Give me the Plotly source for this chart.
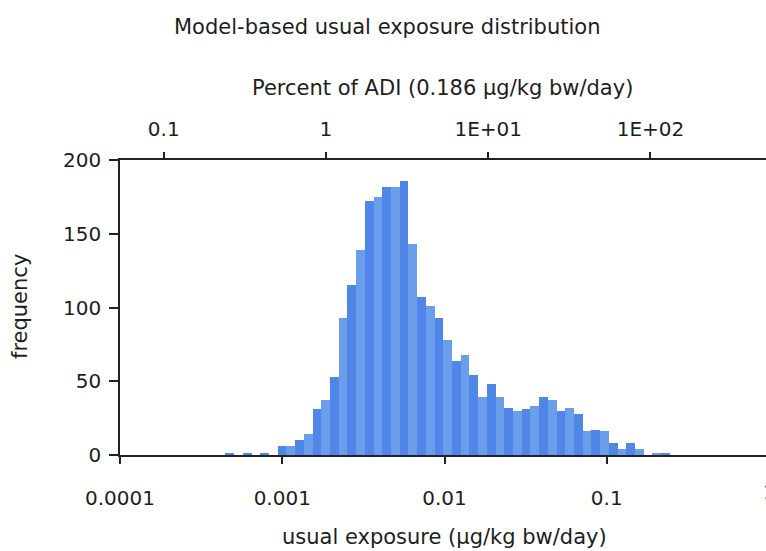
import plotly.graph_objects as go

# ---- data ----
bin_start_log10 = -3.35      # left edge of first bin, log10(µg/kg bw/day)
bin_width_log10 = 0.0537     # bin width in decades
counts = [1, 0, 1, 0, 1, 0,
          6, 6, 10, 14, 31, 37, 53, 93, 115, 139,
          172, 175, 182, 182, 186, 143, 107, 101, 93, 78,
          64, 68, 54, 39, 48, 39, 32, 30, 31, 33,
          39, 37, 30, 32, 28, 16, 17, 16, 8, 4,
          8, 4, 0, 1, 1]
ADI = 0.186  # µg/kg bw/day

bottom_tick_vals = [-4, -3, -2, -1]
bottom_tick_text = ["0.0001", "0.001", "0.01", "0.1"]
top_tick_vals = [-1, 0, 1, 2]
top_tick_text = ["0.1", "1", "1E+01", "1E+02"]
y_tick_vals = [0, 50, 100, 150, 200]

# ---- derived ----
import math
centers = [bin_start_log10 + (i + 0.5) * bin_width_log10 for i in range(len(counts))]
colors = ["#4f86e8" if i % 2 == 0 else "#6a9dec" for i in range(len(counts))]
shift = math.log10(100.0 / ADI)

W, H = 766, 551
L, R, T, B = 120, 0, 160, 96
pw = W - L - R
px_per_decade = 162.25
x_range = [-4, -4 + pw / px_per_decade]

FONT = "DejaVu Sans"
TXT = "#1e1e1e"

fig = go.Figure()
fig.add_trace(go.Bar(x=centers, y=counts, width=bin_width_log10,
                     marker=dict(color=colors, line=dict(width=0)),
                     hoverinfo="skip", showlegend=False))
fig.add_trace(go.Scatter(x=[x_range[0] + shift], y=[0], xaxis="x2", mode="markers",
                         marker=dict(opacity=0), hoverinfo="skip", showlegend=False))

fig.update_layout(
    width=W, height=H,
    margin=dict(l=L, r=R, t=T, b=B, pad=0),
    plot_bgcolor="white", paper_bgcolor="white",
    bargap=0,
    font=dict(family=FONT, color=TXT, size=20),
    xaxis=dict(range=x_range, tickmode="array", tickvals=bottom_tick_vals,
               ticktext=bottom_tick_text, showline=True, linecolor="#222",
               linewidth=1.5, ticks="outside", ticklen=7, tickcolor="#222",
               tickwidth=1.5, showgrid=False, zeroline=False,
               ticklabelstandoff=17, tickfont=dict(size=20, family=FONT, color=TXT)),
    xaxis2=dict(range=[x_range[0] + shift, x_range[1] + shift], overlaying="x",
                side="top", anchor="y", tickmode="array", tickvals=top_tick_vals,
                ticktext=top_tick_text, showline=True, linecolor="#222",
                linewidth=1.5, ticks="outside", ticklen=6, tickcolor="#222",
                tickwidth=1.5, showgrid=False, zeroline=False,
                ticklabelstandoff=8, tickfont=dict(size=20, family=FONT, color=TXT)),
    yaxis=dict(range=[0, 200], tickmode="array", tickvals=y_tick_vals,
               showline=True, linecolor="#222", linewidth=1.5, ticks="outside",
               ticklen=9, tickcolor="#222", tickwidth=1.5, showgrid=False,
               zeroline=False, ticklabelstandoff=4,
               tickfont=dict(size=20, family=FONT, color=TXT)),
)

def ann(text, xpx, ypx, size=21, angle=0):
    fig.add_annotation(text=text, xref="paper", yref="paper",
                       x=(xpx - L) / pw, y=(H - B - ypx) / (H - T - B),
                       xanchor="center", yanchor="middle", showarrow=False,
                       textangle=angle, font=dict(size=size, family=FONT, color=TXT))

ann("Model-based usual exposure distribution", 386.5, 27)
ann("Percent of ADI (0.186 µg/kg bw/day)", 442.5, 88)
ann("usual exposure (µg/kg bw/day)", 444, 537)
ann("frequency", 20, 307, angle=-90)
# tick label "1" at the right edge (partly outside the page, as in the reference)
ann("1", L + (0 - x_range[0]) * px_per_decade, 492, size=20)

fig.write_html("out.html")
